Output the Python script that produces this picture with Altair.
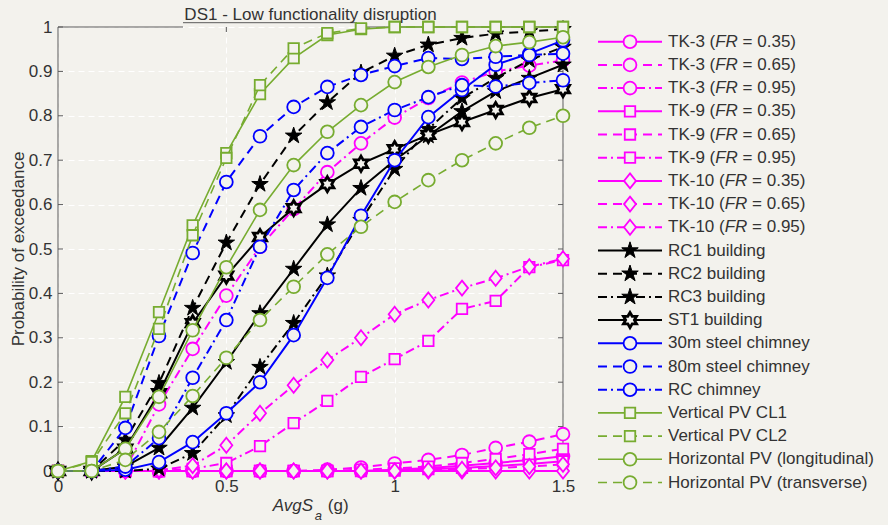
import math
import altair as alt
import pandas as pd

FONT = "Liberation Sans"
BG = "#f3f2ed"
INK = "#333333"
BOX = "#5a5a5a"

# ---------------------------------------------------------------- data
avgsa = [0.0, 0.1, 0.2, 0.3, 0.4, 0.5, 0.6, 0.7, 0.8, 0.9, 1.0, 1.1, 1.2, 1.3, 1.4, 1.5]

tk3_fr035 = [0, 0, 0, 0, 0, 0, 0, 0, 0, 0, 0.003, 0.007, 0.012, 0.018, 0.025, 0.033]
tk3_fr065 = [0, 0, 0, 0, 0, 0, 0, 0, 0.003, 0.008, 0.017, 0.025, 0.036, 0.052, 0.066, 0.083]
tk3_fr095 = [0, 0, 0.005, 0.15, 0.275, 0.395, 0.505, 0.59, 0.673, 0.738, 0.796, 0.84, 0.875, 0.9, 0.913, 0.925]
tk9_fr035 = [0, 0, 0, 0, 0, 0, 0, 0, 0, 0, 0.001, 0.004, 0.007, 0.011, 0.016, 0.022]
tk9_fr065 = [0, 0, 0, 0, 0, 0, 0, 0, 0, 0.003, 0.006, 0.01, 0.018, 0.027, 0.038, 0.05]
tk9_fr095 = [0, 0, 0, 0, 0.005, 0.018, 0.056, 0.108, 0.158, 0.212, 0.252, 0.293, 0.365, 0.383, 0.459, 0.475]
tk10_fr035 = [0, 0, 0, 0, 0, 0, 0, 0, 0, 0, 0, 0, 0, 0, 0, 0]
tk10_fr065 = [0, 0, 0, 0, 0, 0, 0, 0, 0, 0, 0, 0.002, 0.004, 0.007, 0.01, 0.015]
tk10_fr095 = [0, 0, 0, 0.002, 0.012, 0.058, 0.13, 0.193, 0.25, 0.3, 0.353, 0.385, 0.412, 0.434, 0.46, 0.478]
rc1 = [0, 0, 0.01, 0.052, 0.142, 0.245, 0.355, 0.455, 0.555, 0.637, 0.7, 0.755, 0.81, 0.855, 0.885, 0.915]
rc2 = [0, 0, 0.07, 0.198, 0.367, 0.514, 0.646, 0.755, 0.83, 0.897, 0.935, 0.96, 0.975, 0.985, 0.99, 0.995]
rc3 = [0, 0, 0, 0.005, 0.04, 0.125, 0.234, 0.333, 0.44, 0.565, 0.68, 0.77, 0.84, 0.885, 0.925, 0.955]
st1 = [0, 0, 0.05, 0.175, 0.333, 0.44, 0.527, 0.592, 0.646, 0.692, 0.725, 0.757, 0.786, 0.813, 0.84, 0.86]
chimney_30m = [0, 0, 0.003, 0.02, 0.065, 0.13, 0.2, 0.306, 0.435, 0.575, 0.7, 0.797, 0.858, 0.915, 0.94, 0.97]
chimney_80m = [0, 0, 0.097, 0.304, 0.491, 0.651, 0.754, 0.82, 0.865, 0.892, 0.912, 0.93, 0.928, 0.933, 0.937, 0.94]
chimney_rc = [0, 0, 0.01, 0.074, 0.21, 0.34, 0.505, 0.633, 0.716, 0.775, 0.813, 0.842, 0.869, 0.866, 0.874, 0.88]
pv_vert_cl1 = [0, 0.022, 0.167, 0.358, 0.553, 0.716, 0.849, 0.93, 0.982, 0.995, 1, 1, 1, 1, 1, 1]
pv_vert_cl2 = [0, 0.02, 0.13, 0.32, 0.531, 0.705, 0.869, 0.952, 0.986, 0.997, 1, 1, 1, 1, 1, 1]
pv_horiz_long = [0, 0, 0.05, 0.167, 0.317, 0.459, 0.588, 0.689, 0.764, 0.824, 0.876, 0.91, 0.937, 0.957, 0.966, 0.977]
pv_horiz_trans = [0, 0, 0.025, 0.088, 0.169, 0.255, 0.34, 0.415, 0.488, 0.55, 0.606, 0.655, 0.7, 0.738, 0.773, 0.8]

y_ticks = [0, 0.1, 0.2, 0.3, 0.4, 0.5, 0.6, 0.7, 0.8, 0.9, 1]
x_ticks = [0, 0.5, 1, 1.5]

# ---------------------------------------------------------------- styles
MAGENTA, BLUE, BLACK, GREEN = "#ff00ff", "#0000ff", "#000000", "#77ac30"

series = [
    ("TK-3 (FR = 0.35)", tk3_fr035, MAGENTA, "solid", "circle"),
    ("TK-3 (FR = 0.65)", tk3_fr065, MAGENTA, "dashed", "circle"),
    ("TK-3 (FR = 0.95)", tk3_fr095, MAGENTA, "dashdot", "circle"),
    ("TK-9 (FR = 0.35)", tk9_fr035, MAGENTA, "solid", "square"),
    ("TK-9 (FR = 0.65)", tk9_fr065, MAGENTA, "dashed", "square"),
    ("TK-9 (FR = 0.95)", tk9_fr095, MAGENTA, "dashdot", "square"),
    ("TK-10 (FR = 0.35)", tk10_fr035, MAGENTA, "solid", "diamond"),
    ("TK-10 (FR = 0.65)", tk10_fr065, MAGENTA, "dashed", "diamond"),
    ("TK-10 (FR = 0.95)", tk10_fr095, MAGENTA, "dashdot", "diamond"),
    ("RC1 building", rc1, BLACK, "solid", "pentagram"),
    ("RC2 building", rc2, BLACK, "dashed", "pentagram"),
    ("RC3 building", rc3, BLACK, "dashdot", "pentagram"),
    ("ST1 building", st1, BLACK, "solid", "hexagram"),
    ("30m steel chimney", chimney_30m, BLUE, "solid", "circle"),
    ("80m steel chimney", chimney_80m, BLUE, "dashed", "circle"),
    ("RC chimney", chimney_rc, BLUE, "dashdot", "circle"),
    ("Vertical PV CL1", pv_vert_cl1, GREEN, "solid", "square"),
    ("Vertical PV CL2", pv_vert_cl2, GREEN, "dashed", "square"),
    ("Horizontal PV (longitudinal)", pv_horiz_long, GREEN, "solid", "circle"),
    ("Horizontal PV (transverse)", pv_horiz_trans, GREEN, "dashed", "circle"),
]

DASH = {"solid": None, "dashed": [9, 6], "dashdot": [9, 4, 2, 4]}


def star_path(n_points, inner):
    pts = []
    for k in range(2 * n_points):
        r = 1.0 if k % 2 == 0 else inner
        a = -math.pi / 2 + k * math.pi / n_points
        pts.append(f"{r * math.cos(a):.4f},{r * math.sin(a):.4f}")
    return "M" + "L".join(pts) + "Z"


MARKERS = {
    "circle": dict(shape="circle", size=165, strokeWidth=1.8, hollow=True),
    "square": dict(shape="square", size=110, strokeWidth=1.8, hollow=True),
    "diamond": dict(shape="M0,-1L0.8,0L0,1L-0.8,0Z", size=225, strokeWidth=1.8, hollow=True),
    "pentagram": dict(shape=star_path(5, 0.382), size=300, strokeWidth=1.0, hollow=False),
    "hexagram": dict(shape=star_path(6, 0.577), size=230, strokeWidth=2.8, hollow=True),
}

# Arial-compatible advance widths (per 1000 em) for mixed-style text runs
ADV = {"T": 611, "K": 667, "-": 333, "0": 556, "1": 556, "3": 556, "5": 556,
       "6": 556, "9": 556, " ": 278, "(": 333, ")": 333, "F": 611, "R": 722,
       "=": 584, ".": 278, "A": 667, "v": 500, "g": 556, "S": 667, "a": 556}


def text_w(s, size):
    return sum(ADV.get(c, 556) for c in s) * size / 1000.0


W, H = 505, 444
FS = 17

x_enc = alt.X(
    "avgsa:Q",
    scale=alt.Scale(domain=[0, 1.5], nice=False, zero=False),
    axis=alt.Axis(values=x_ticks, format="~g", title=None, grid=True,
                  gridColor="white", gridDash=[6, 4], gridWidth=1,
                  ticks=False, tickSize=0, domain=False, labelFlush=False,
                  labelPadding=7, labelFont=FONT, labelFontSize=FS,
                  labelColor=INK),
)
y_enc = alt.Y(
    "prob:Q",
    scale=alt.Scale(domain=[0, 1], nice=False, zero=False),
    axis=alt.Axis(values=y_ticks, format=".1~f", title=None, grid=True,
                  gridColor="white", gridDash=[6, 4], gridWidth=1,
                  ticks=False, tickSize=0, domain=False,
                  labelPadding=6, labelFont=FONT, labelFontSize=FS,
                  labelColor=INK),
)

one = pd.DataFrame({"k": [0]})
layers = []


def rule(x1, x2, y1, y2, color=BOX, width=1):
    return alt.Chart(one).mark_rule(color=color, strokeWidth=width).encode(
        x=alt.value(x1), x2=alt.value(x2), y=alt.value(y1), y2=alt.value(y2))


def label(text, x, y, size=FS, style="normal", align="left",
          baseline="alphabetic", angle=0):
    kw = dict(text=text, font=FONT, fontSize=size, fontStyle=style,
              color=INK, align=align, baseline=baseline)
    if angle:
        kw["angle"] = angle
    return alt.Chart(one).mark_text(**kw).encode(x=alt.value(x), y=alt.value(y))


# axes frame
layers.append(rule(0, 0, 0, H))
layers.append(rule(W, W, 0, H))
layers.append(rule(0, W, H, H))
layers.append(rule(0, 125, 0, 0))
layers.append(rule(125, 299, -4.3, -4.3))
layers.append(rule(299, W, 0, 0))

# inward tick marks
ytick_df = pd.DataFrame({"prob": y_ticks})
xtick_df = pd.DataFrame({"avgsa": [0.5, 1.0]})
layers.append(alt.Chart(ytick_df).mark_rule(color=BOX).encode(
    y=y_enc, x=alt.value(0), x2=alt.value(5)))
layers.append(alt.Chart(ytick_df).mark_rule(color=BOX).encode(
    y=y_enc, x=alt.value(W - 5), x2=alt.value(W)))
layers.append(alt.Chart(xtick_df).mark_rule(color=BOX).encode(
    x=x_enc, y=alt.value(H - 5), y2=alt.value(H)))
layers.append(alt.Chart(xtick_df).mark_rule(color=BOX).encode(
    x=x_enc, y=alt.value(0), y2=alt.value(5)))


def marker_mark(color, kind):
    m = MARKERS[kind]
    return dict(shape=m["shape"], size=m["size"], filled=True,
                fill=BG if m["hollow"] else color, stroke=color,
                strokeWidth=m["strokeWidth"], opacity=1)


def stroke_kw(color, dash):
    kw = dict(color=color, strokeWidth=1.6 if color == GREEN else 2)
    if DASH[dash]:
        kw["strokeDash"] = DASH[dash]
    return kw


# fragility curves, drawn one after another so later curves sit on top
for name, vals, color, dash, kind in series:
    df = pd.DataFrame({"avgsa": avgsa, "prob": vals})
    layers.append(alt.Chart(df).mark_line(**stroke_kw(color, dash)).encode(
        x=x_enc, y=y_enc))
    layers.append(alt.Chart(df).mark_point(**marker_mark(color, kind)).encode(
        x=x_enc, y=y_enc))

# legend
LX0, LX1, LXM, LXT = 540, 604, 572, 610
LY0, LSTEP = 14.7, 23.2
for i, (name, vals, color, dash, kind) in enumerate(series):
    ly = LY0 + LSTEP * i
    layers.append(alt.Chart(one).mark_rule(**stroke_kw(color, dash)).encode(
        x=alt.value(LX0), x2=alt.value(LX1), y=alt.value(ly)))
    layers.append(alt.Chart(one).mark_point(**marker_mark(color, kind)).encode(
        x=alt.value(LXM), y=alt.value(ly)))
    if "FR" in name:
        pre, post = name.split("FR")
        # "TK-n (" + italic "FR" + " = value)"
        layers.append(label(pre.rstrip(" "), LXT, ly, baseline="middle"))
        fr_x = LXT + text_w(pre, FS)
        layers.append(label("FR", fr_x, ly, style="italic", baseline="middle"))
        post_x = fr_x + text_w("FR", FS) + text_w(" ", FS)
        layers.append(label(post.strip(" "), post_x, ly, baseline="middle"))
    else:
        layers.append(label(name, LXT, ly, baseline="middle"))

# title
layers.append(label("DS1 - Low functionality disruption", W / 2, -7, align="center"))

# y-axis title
layers.append(label("Probability of exceedance", -39, 222, align="center",
                    baseline="middle", angle=270))

# x-axis title: AvgS with subscript a, then the unit
XT_FS = 17
xt_left = 214.7
layers.append(label("AvgS", xt_left, 484, size=XT_FS, style="italic"))
sub_x = xt_left + text_w("AvgS", XT_FS) + 1.5
layers.append(label("a", sub_x, 493, size=13, style="italic"))
unit_x = sub_x + text_w("a", 13) + text_w(" ", XT_FS) + 1
layers.append(label("(g)", unit_x, 484, size=XT_FS))

chart = alt.layer(*layers).properties(
    width=W,
    height=H,
    autosize=alt.AutoSizeParams(type="none"),
    padding={"left": 58, "top": 27, "right": 325, "bottom": 54},
    background=BG,
).configure_view(stroke=None, fill=BG)

chart.save("out.html", embed_options={"renderer": "svg", "actions": False})
